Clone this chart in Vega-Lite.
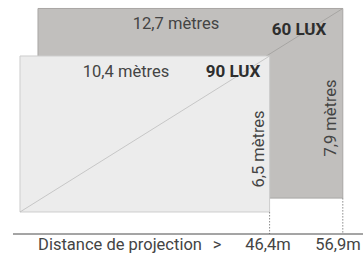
{
  "$schema": "https://vega.github.io/schema/vega-lite/v6.json",
  "width": 363,
  "height": 257,
  "autosize": "none",
  "padding": 0,
  "background": "white",
  "config": {"view": {"stroke": null}},
  "datasets": {
    "screens": [
      {"screen": "60 LUX", "width_m": 12.7, "height_m": 7.9, "distance": "56,9m", "x0": 0.75, "x1": 13.45, "y0": 0.58, "y1": 8.48},
      {"screen": "90 LUX", "width_m": 10.4, "height_m": 6.5, "distance": "46,4m", "x0": 0, "x1": 10.4, "y0": 0, "y1": 6.5}
    ],
    "labels": [
      {"text": "12,7 mètres", "kind": "dim", "x": 6.5, "y": 7.625, "angle": 0},
      {"text": "60 LUX", "kind": "lux", "x": 11.625, "y": 7.375, "angle": 0},
      {"text": "10,4 mètres", "kind": "dim", "x": 4.417, "y": 5.64, "angle": 0},
      {"text": "90 LUX", "kind": "lux", "x": 8.875, "y": 5.625, "angle": 0},
      {"text": "6,5 mètres", "kind": "dim", "x": 10.167, "y": 2.625, "angle": 270},
      {"text": "7,9 mètres", "kind": "dim", "x": 13.167, "y": 3.917, "angle": 270},
      {"text": "Distance de projection", "kind": "axis", "x": 4.167, "y": -1.583, "angle": 0},
      {"text": ">", "kind": "axis", "x": 8.208, "y": -1.583, "angle": 0},
      {"text": "46,4m", "kind": "axis", "x": 10.333, "y": -1.583, "angle": 0},
      {"text": "56,9m", "kind": "axis", "x": 13.25, "y": -1.583, "angle": 0}
    ],
    "baseline": [
      {"x0": -0.292, "x1": 14.3, "y": -0.917}
    ]
  },
  "resolve": {"scale": {"x": "shared", "y": "shared"}},
  "layer": [
    {
      "data": {"name": "screens"},
      "transform": [{"filter": "datum.screen === '60 LUX'"}],
      "mark": {"type": "rect", "fill": "#c1bfbd", "stroke": "#a8a6a4", "strokeWidth": 1},
      "encoding": {
        "x": {"field": "x0", "type": "quantitative", "scale": {"domain": [-0.8333, 14.2917], "nice": false, "zero": false}, "axis": null},
        "x2": {"field": "x1"},
        "y": {"field": "y0", "type": "quantitative", "scale": {"domain": [-1.875, 8.8333], "nice": false, "zero": false}, "axis": null},
        "y2": {"field": "y1"}
      }
    },
    {
      "data": {"name": "screens"},
      "transform": [{"filter": "datum.screen === '60 LUX'"}],
      "mark": {"type": "rule", "stroke": "#a09e9c", "strokeWidth": 0.8},
      "encoding": {
        "x": {"field": "x0", "type": "quantitative"},
        "x2": {"field": "x1"},
        "y": {"field": "y0", "type": "quantitative"},
        "y2": {"field": "y1"}
      }
    },
    {
      "data": {"name": "screens"},
      "transform": [{"filter": "datum.screen === '90 LUX'"}],
      "mark": {"type": "rect", "fill": "#ececec", "stroke": "#cdcdcd", "strokeWidth": 1},
      "encoding": {
        "x": {"field": "x0", "type": "quantitative"},
        "x2": {"field": "x1"},
        "y": {"field": "y0", "type": "quantitative"},
        "y2": {"field": "y1"}
      }
    },
    {
      "data": {"name": "screens"},
      "transform": [{"filter": "datum.screen === '90 LUX'"}],
      "mark": {"type": "rule", "stroke": "#bdbdbd", "strokeWidth": 0.8},
      "encoding": {
        "x": {"field": "x0", "type": "quantitative"},
        "x2": {"field": "x1"},
        "y": {"field": "y0", "type": "quantitative"},
        "y2": {"field": "y1"}
      }
    },
    {
      "data": {"name": "screens"},
      "mark": {"type": "rule", "stroke": "#8a8a8a", "strokeWidth": 1, "strokeDash": [1.5, 1.5]},
      "encoding": {
        "x": {"field": "x1", "type": "quantitative"},
        "y": {"field": "y0", "type": "quantitative"},
        "y2": {"datum": -0.917}
      }
    },
    {
      "data": {"name": "baseline"},
      "mark": {"type": "rule", "stroke": "#4a4a4a", "strokeWidth": 1},
      "encoding": {
        "x": {"field": "x0", "type": "quantitative"},
        "x2": {"field": "x1"},
        "y": {"field": "y", "type": "quantitative"}
      }
    },
    {
      "data": {"name": "labels"},
      "transform": [{"filter": "datum.kind !== 'lux'"}],
      "mark": {"type": "text", "font": "Roboto", "fontSize": 16.5, "fill": "#444444", "align": "center", "baseline": "alphabetic"},
      "encoding": {
        "x": {"field": "x", "type": "quantitative"},
        "y": {"field": "y", "type": "quantitative"},
        "angle": {"field": "angle", "type": "quantitative", "scale": null},
        "text": {"field": "text", "type": "nominal"}
      }
    },
    {
      "data": {"name": "labels"},
      "transform": [{"filter": "datum.kind === 'lux'"}],
      "mark": {"type": "text", "font": "Roboto", "fontSize": 17, "fontWeight": "bold", "fill": "#2e2e2e", "align": "center", "baseline": "alphabetic"},
      "encoding": {
        "x": {"field": "x", "type": "quantitative"},
        "y": {"field": "y", "type": "quantitative"},
        "text": {"field": "text", "type": "nominal"}
      }
    }
  ]
}
